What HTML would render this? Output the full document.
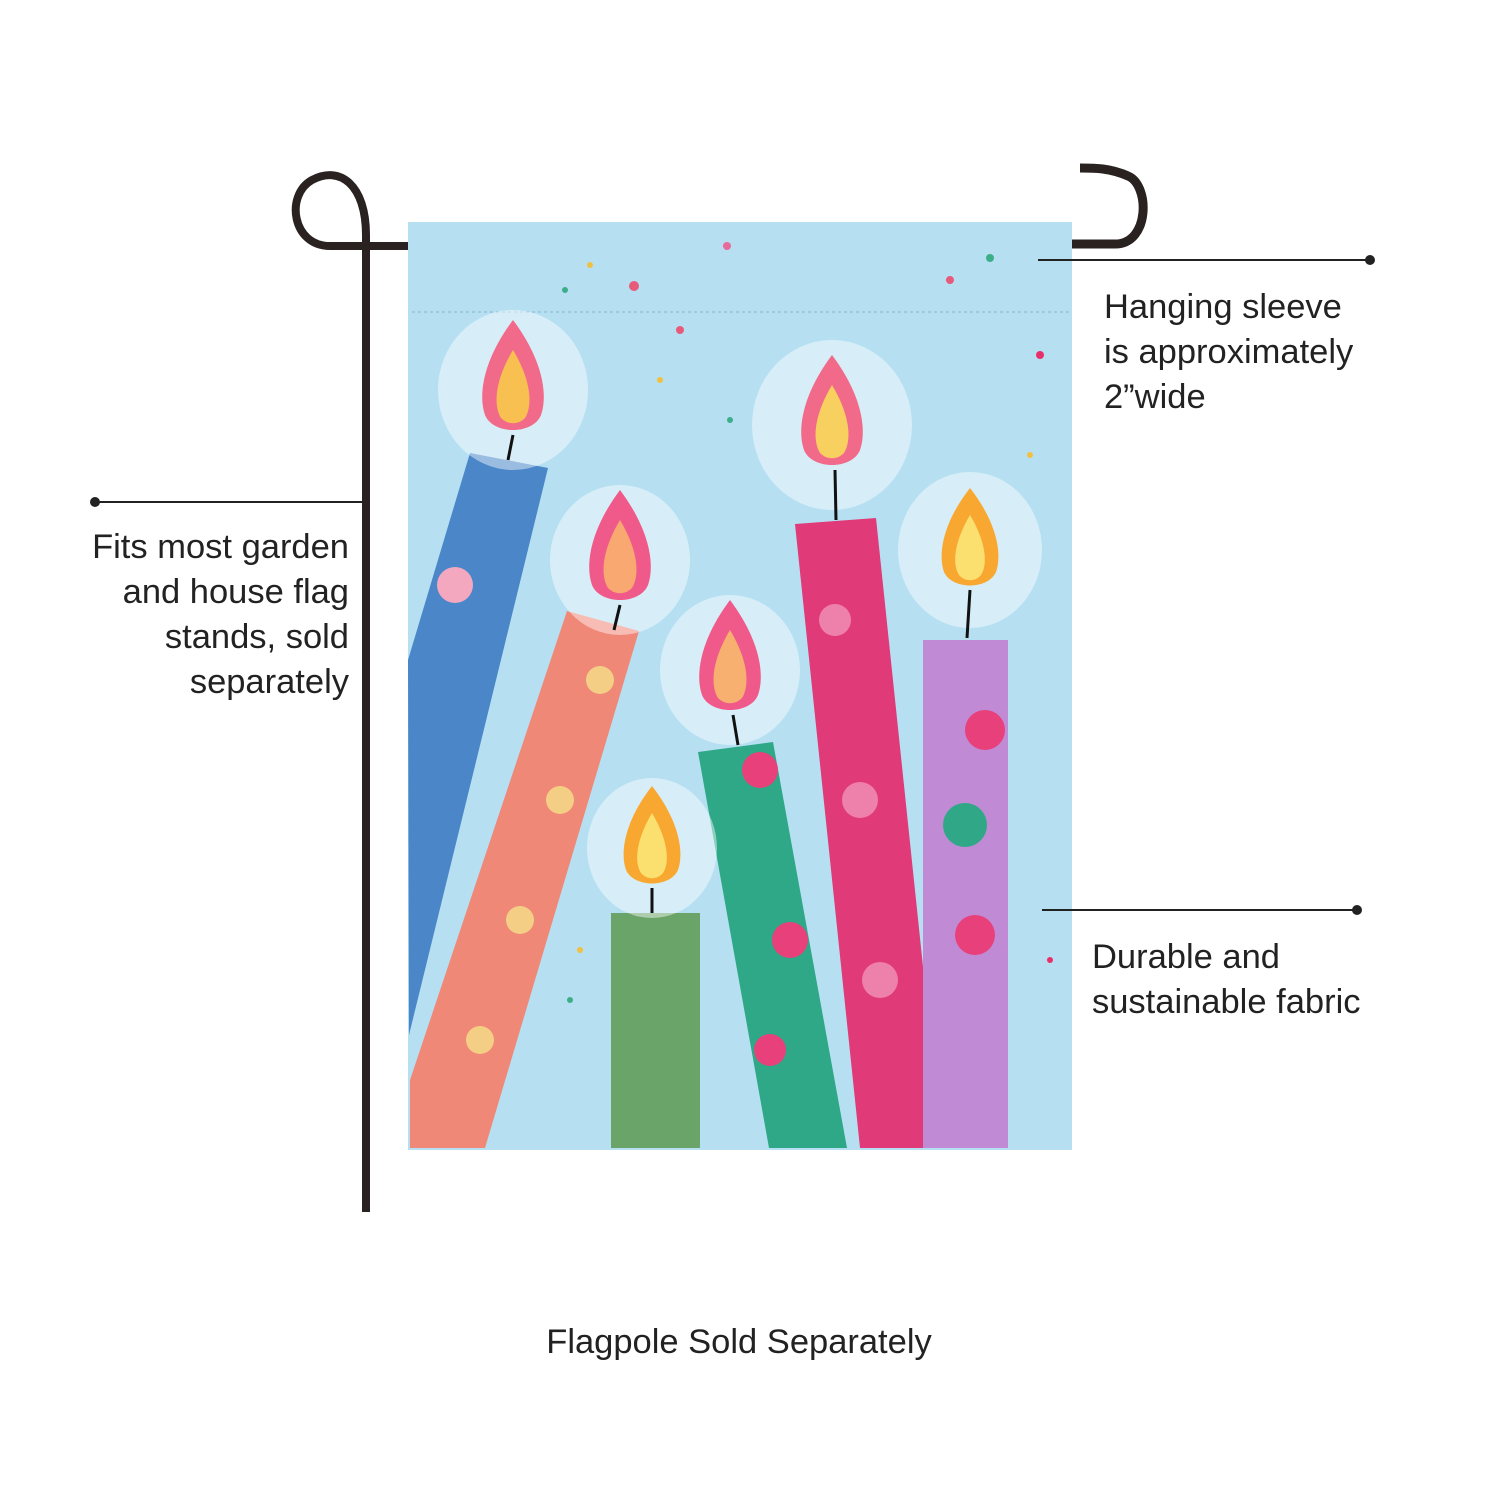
<!DOCTYPE html>
<html><head><meta charset="utf-8"><style>
html,body{margin:0;padding:0;background:#fff;width:1500px;height:1500px;overflow:hidden}
svg{display:block}
text{font-family:"Liberation Sans",sans-serif;fill:#222;font-size:34.5px}
</style></head><body>
<svg width="1500" height="1500" viewBox="0 0 1500 1500">
<!-- pole -->
<path d="M410 246 L330 246 C292 246 285 195 312 180 C340 165 366 185 366 235 L366 1212" fill="none" stroke="#2a2220" stroke-width="8"/>
<path d="M1070 244 L1115 244 C1150 244 1150 185 1128 176 C1110 168 1095 168 1080 168" fill="none" stroke="#2a2220" stroke-width="9"/>
<!-- flag -->
<rect x="408" y="222" width="664" height="928" fill="#b6e0f2"/>
<line x1="412" y1="312" x2="1070" y2="312" stroke="#9ccbe0" stroke-width="2" stroke-dasharray="3 3"/>
<!-- dots -->
<g>
<circle cx="634" cy="286" r="5" fill="#e85a7a"/><circle cx="727" cy="246" r="4" fill="#e86a9a"/><circle cx="590" cy="265" r="3" fill="#f0c040"/>
<circle cx="680" cy="330" r="4" fill="#e85a7a"/><circle cx="950" cy="280" r="4" fill="#e85a7a"/><circle cx="990" cy="258" r="4" fill="#3cae8a"/>
<circle cx="1040" cy="355" r="4" fill="#e8306a"/><circle cx="1030" cy="455" r="3" fill="#f0c040"/><circle cx="660" cy="380" r="3" fill="#f0c040"/>
<circle cx="730" cy="420" r="3" fill="#3cae8a"/><circle cx="565" cy="290" r="3" fill="#3cae8a"/><circle cx="1050" cy="960" r="3" fill="#e8306a"/>
<circle cx="570" cy="1000" r="3" fill="#3cae8a"/><circle cx="580" cy="950" r="3" fill="#f0c040"/><circle cx="720" cy="620" r="3" fill="#e85a7a"/>
</g>
<!-- candles -->
<polygon points="470,453 548,468 409,1035 408,660" fill="#4a86c8"/>
<polygon points="567,611 639,631 485,1148 410,1148 410,1080" fill="#f08878"/>
<rect x="611" y="913" width="89" height="235" fill="#6aa468"/>
<polygon points="698,752 773,742 847,1148 769,1148" fill="#2fa888"/>
<polygon points="795,524 876,518 942,1148 860,1148" fill="#e03a78"/>
<rect x="923" y="640" width="85" height="508" fill="#c08ad4"/>
<g fill="#f6e08a" opacity=".8">
<circle cx="600" cy="680" r="14"/><circle cx="560" cy="800" r="14"/><circle cx="520" cy="920" r="14"/><circle cx="480" cy="1040" r="14"/>
</g>
<g fill="#f4a0c0" opacity=".7"><circle cx="835" cy="620" r="16"/><circle cx="860" cy="800" r="18"/><circle cx="880" cy="980" r="18"/></g>
<g fill="#e8407a"><circle cx="760" cy="770" r="18"/><circle cx="790" cy="940" r="18"/><circle cx="770" cy="1050" r="16"/><circle cx="985" cy="730" r="20"/><circle cx="975" cy="935" r="20"/></g>
<circle cx="965" cy="825" r="22" fill="#30a888"/>
<circle cx="455" cy="585" r="18" fill="#f4a8c0"/>
<!-- flames -->
<g>
<g transform="translate(513,390)"><ellipse rx="75" ry="80" fill="#fff" opacity=".45"/><path d="M0 -70 C30 -30 35 5 28 25 C20 45 -20 45 -28 25 C-35 5 -30 -30 0 -70Z" fill="#f26a8a"/><path d="M0 -40 C18 -10 20 15 12 28 C5 35 -5 35 -12 28 C-20 15 -18 -10 0 -40Z" fill="#f8c050"/><line x1="0" y1="45" x2="-5" y2="70" stroke="#111" stroke-width="3"/></g>
<g transform="translate(620,560)"><ellipse rx="70" ry="75" fill="#fff" opacity=".45"/><path d="M0 -70 C30 -30 35 5 28 25 C20 45 -20 45 -28 25 C-35 5 -30 -30 0 -70Z" fill="#f05a8a"/><path d="M0 -40 C18 -10 20 15 12 28 C5 35 -5 35 -12 28 C-20 15 -18 -10 0 -40Z" fill="#f8a870"/><line x1="0" y1="45" x2="-6" y2="70" stroke="#111" stroke-width="3"/></g>
<g transform="translate(730,670)"><ellipse rx="70" ry="75" fill="#fff" opacity=".45"/><path d="M0 -70 C30 -30 35 5 28 25 C20 45 -20 45 -28 25 C-35 5 -30 -30 0 -70Z" fill="#f05a8a"/><path d="M0 -40 C18 -10 20 15 12 28 C5 35 -5 35 -12 28 C-20 15 -18 -10 0 -40Z" fill="#f8b070"/><line x1="3" y1="45" x2="8" y2="75" stroke="#111" stroke-width="3"/></g>
<g transform="translate(652,848)"><ellipse rx="65" ry="70" fill="#fff" opacity=".45"/><path d="M0 -62 C28 -26 32 5 26 22 C18 40 -18 40 -26 22 C-32 5 -28 -26 0 -62Z" fill="#f8a830"/><path d="M0 -35 C16 -8 18 14 11 25 C5 32 -5 32 -11 25 C-18 14 -16 -8 0 -35Z" fill="#fbe070"/><line x1="0" y1="40" x2="0" y2="65" stroke="#111" stroke-width="3"/></g>
<g transform="translate(832,425)"><ellipse rx="80" ry="85" fill="#fff" opacity=".45"/><path d="M0 -70 C30 -30 35 5 28 25 C20 45 -20 45 -28 25 C-35 5 -30 -30 0 -70Z" fill="#f26a8a"/><path d="M0 -40 C18 -10 20 15 12 28 C5 35 -5 35 -12 28 C-20 15 -18 -10 0 -40Z" fill="#f8d060"/><line x1="3" y1="45" x2="4" y2="95" stroke="#111" stroke-width="3"/></g>
<g transform="translate(970,550)"><ellipse rx="72" ry="78" fill="#fff" opacity=".45"/><path d="M0 -62 C28 -26 32 5 26 22 C18 40 -18 40 -26 22 C-32 5 -28 -26 0 -62Z" fill="#f8a830"/><path d="M0 -35 C16 -8 18 14 11 25 C5 32 -5 32 -11 25 C-18 14 -16 -8 0 -35Z" fill="#fbe070"/><line x1="0" y1="40" x2="-3" y2="88" stroke="#111" stroke-width="3"/></g>
</g>
<!-- callouts -->
<line x1="1038" y1="260" x2="1370" y2="260" stroke="#222" stroke-width="2"/><circle cx="1370" cy="260" r="5" fill="#222"/>
<line x1="95" y1="502" x2="364" y2="502" stroke="#222" stroke-width="2"/><circle cx="95" cy="502" r="5" fill="#222"/>
<line x1="1042" y1="910" x2="1357" y2="910" stroke="#222" stroke-width="2"/><circle cx="1357" cy="910" r="5" fill="#222"/>
<text x="1104" y="318">Hanging sleeve</text>
<text x="1104" y="363">is approximately</text>
<text x="1104" y="408">2”wide</text>
<text x="349" y="558" text-anchor="end">Fits most garden</text>
<text x="349" y="603" text-anchor="end">and house flag</text>
<text x="349" y="648" text-anchor="end">stands, sold</text>
<text x="349" y="693" text-anchor="end">separately</text>
<text x="1092" y="968">Durable and</text>
<text x="1092" y="1013">sustainable fabric</text>
<text x="739" y="1353" text-anchor="middle">Flagpole Sold Separately</text>
</svg>
</body></html>
